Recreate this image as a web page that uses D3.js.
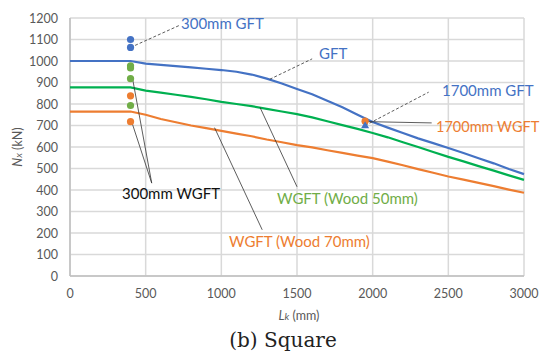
<!DOCTYPE html>
<html>
<head>
<meta charset="utf-8">
<script src="https://cdn.jsdelivr.net/npm/d3@7"></script>
<style>
  body { margin: 0; background: #fff; }
  text { font-family: Lato, "Open Sans", sans-serif; }
</style>
</head>
<body>
<script>
const width = 544, height = 352;

// curve data (Lk in mm, N in kN)
const lk = [0, 400, 500, 600, 700, 800, 900, 1000, 1100, 1200, 1300, 1400, 1500, 1600, 1700, 1800, 1900, 2000,
            2100, 2200, 2300, 2400, 2500, 2600, 2700, 2800, 2900, 3000];
const gft = [1000, 1000, 988, 982, 976, 970, 964, 958, 950, 937, 918, 895, 870, 845, 815, 785, 750, 716,
             690, 665, 640, 618, 595, 572, 548, 524, 498, 474];
const wood50 = [877, 877, 862, 853, 843, 833, 822, 810, 800, 790, 777, 765, 753, 738, 720, 702, 684, 665,
                645, 622, 600, 577, 554, 533, 511, 490, 468, 447];
const wood70 = [765, 765, 750, 730, 715, 700, 688, 675, 662, 650, 635, 622, 609, 598, 585, 573, 560, 548,
                532, 515, 497, 480, 463, 448, 433, 418, 402, 387];

// test points
const gftPts = [[400, 1100], [400, 1063]];
const wgft50Pts = [[400, 978], [400, 968], [400, 918], [400, 793]];
const wgft70Pts = [[400, 838], [400, 718]];
const gft1700 = [[1950, 698]];
const wgft1700 = [[1950, 720]];

const xTicks = [0, 500, 1000, 1500, 2000, 2500, 3000];
const yTicks = d3.range(0, 1201, 100);

const blue = '#4472C4', green = '#00B050', greenPt = '#70AD47', orange = '#ED7D31';

const svg = d3.select('body').append('svg')
  .attr('width', width).attr('height', height);

const x = d3.scaleLinear().domain([0, 3000]).range([70, 524]);
const y = d3.scaleLinear().domain([0, 1200]).range([276, 18]);

// grid
svg.append('g').selectAll('line.h').data(yTicks).enter().append('line')
  .attr('x1', x(0)).attr('x2', x(3000))
  .attr('y1', d => y(d)).attr('y2', d => y(d))
  .attr('stroke', '#d9d9d9').attr('stroke-width', 1.5);
svg.append('g').selectAll('line.v').data(xTicks).enter().append('line')
  .attr('y1', y(0)).attr('y2', y(1200))
  .attr('x1', d => x(d)).attr('x2', d => x(d))
  .attr('stroke', '#d9d9d9').attr('stroke-width', 1.5);
svg.append('line').attr('x1', x(0)).attr('x2', x(3000)).attr('y1', y(0)).attr('y2', y(0))
  .attr('stroke', '#bfbfbf').attr('stroke-width', 1.5);
svg.append('line').attr('x1', x(0)).attr('x2', x(0)).attr('y1', y(0)).attr('y2', y(1200))
  .attr('stroke', '#bfbfbf').attr('stroke-width', 1.5);

// tick labels
svg.append('g').selectAll('text').data(yTicks).enter().append('text')
  .attr('x', 58).attr('y', d => y(d) + 4.5)
  .attr('text-anchor', 'end').attr('font-size', 12.5).attr('fill', '#595959')
  .text(d => d);
svg.append('g').selectAll('text').data(xTicks).enter().append('text')
  .attr('x', d => x(d)).attr('y', 298)
  .attr('text-anchor', 'middle').attr('font-size', 12.5).attr('fill', '#595959')
  .text(d => d);

// axis titles
const yl = svg.append('text')
  .attr('transform', 'translate(22,147) rotate(-90)')
  .attr('text-anchor', 'middle').attr('font-size', 12.5).attr('fill', '#595959');
yl.append('tspan').attr('font-style', 'italic').text('N');
yl.append('tspan').attr('font-style', 'italic').attr('font-size', 10).text('x');
yl.append('tspan').text(' (kN)');

const xl = svg.append('text')
  .attr('x', 299).attr('y', 320)
  .attr('text-anchor', 'middle').attr('font-size', 12.5).attr('fill', '#595959');
xl.append('tspan').attr('font-style', 'italic').text('L');
xl.append('tspan').attr('font-style', 'italic').attr('font-size', 10).text('k');
xl.append('tspan').text(' (mm)');

svg.append('text')
  .attr('x', 283).attr('y', 347)
  .attr('text-anchor', 'middle').attr('font-size', 20)
  .style('font-family', '"DejaVu Serif", "Liberation Serif", serif')
  .attr('fill', '#222')
  .text('(b) Square');

// curves
const line = d3.line().x((d, i) => x(lk[i])).y(d => y(d));
[[gft, blue], [wood50, green], [wood70, orange]].forEach(([data, col]) => {
  svg.append('path').datum(data)
    .attr('d', line).attr('fill', 'none')
    .attr('stroke', col).attr('stroke-width', 2.2);
});

// leader lines
const leaders = [
  { p: [[400, 1063], [727, 1167]], dash: '3,2' },
  { p: [[1320, 915], [1600, 1010]], dash: '3,2' },
  { p: [[1950, 700], [2370, 855]], dash: '3,2' },
  { p: [[1960, 718], [2390, 712]], dash: null },
  { p: [[415, 912], [540, 432]], dash: null },
  { p: [[410, 712], [540, 432]], dash: null },
  { p: [[1255, 785], [1500, 415]], dash: null },
  { p: [[955, 690], [1270, 215]], dash: null }
];
leaders.forEach(l => {
  svg.append('path')
    .attr('d', d3.line().x(d => x(d[0])).y(d => y(d[1]))(l.p))
    .attr('fill', 'none').attr('stroke', '#333').attr('stroke-width', 0.8)
    .attr('stroke-dasharray', l.dash);
});

// points
const dots = (pts, col) => svg.append('g').selectAll('circle').data(pts).enter().append('circle')
  .attr('cx', d => x(d[0])).attr('cy', d => y(d[1])).attr('r', 3.6).attr('fill', col);
dots(gftPts, blue);
dots(wgft50Pts, greenPt);
dots(wgft70Pts, orange);
dots(wgft1700, orange);
svg.append('g').selectAll('path.tri').data(gft1700).enter().append('path')
  .attr('d', d3.symbol().type(d3.symbolTriangle).size(28))
  .attr('transform', d => `translate(${x(d[0])},${y(d[1])})`)
  .attr('fill', blue);

// annotations
const notes = [
  { t: '300mm GFT', x: 181, y: 29, c: blue },
  { t: 'GFT', x: 319, y: 59, c: blue },
  { t: '1700mm GFT', x: 442, y: 96, c: blue },
  { t: '1700mm WGFT', x: 436, y: 132, c: orange },
  { t: '300mm WGFT', x: 122, y: 199, c: '#111' },
  { t: 'WGFT (Wood 50mm)', x: 277, y: 204, c: greenPt },
  { t: 'WGFT (Wood 70mm)', x: 229, y: 247, c: orange }
];
svg.append('g').selectAll('text').data(notes).enter().append('text')
  .attr('x', d => d.x).attr('y', d => d.y)
  .attr('font-size', d => d.t === '1700mm WGFT' ? 14.5 : 15).attr('fill', d => d.c)
  .text(d => d.t);
</script>
</body>
</html>
